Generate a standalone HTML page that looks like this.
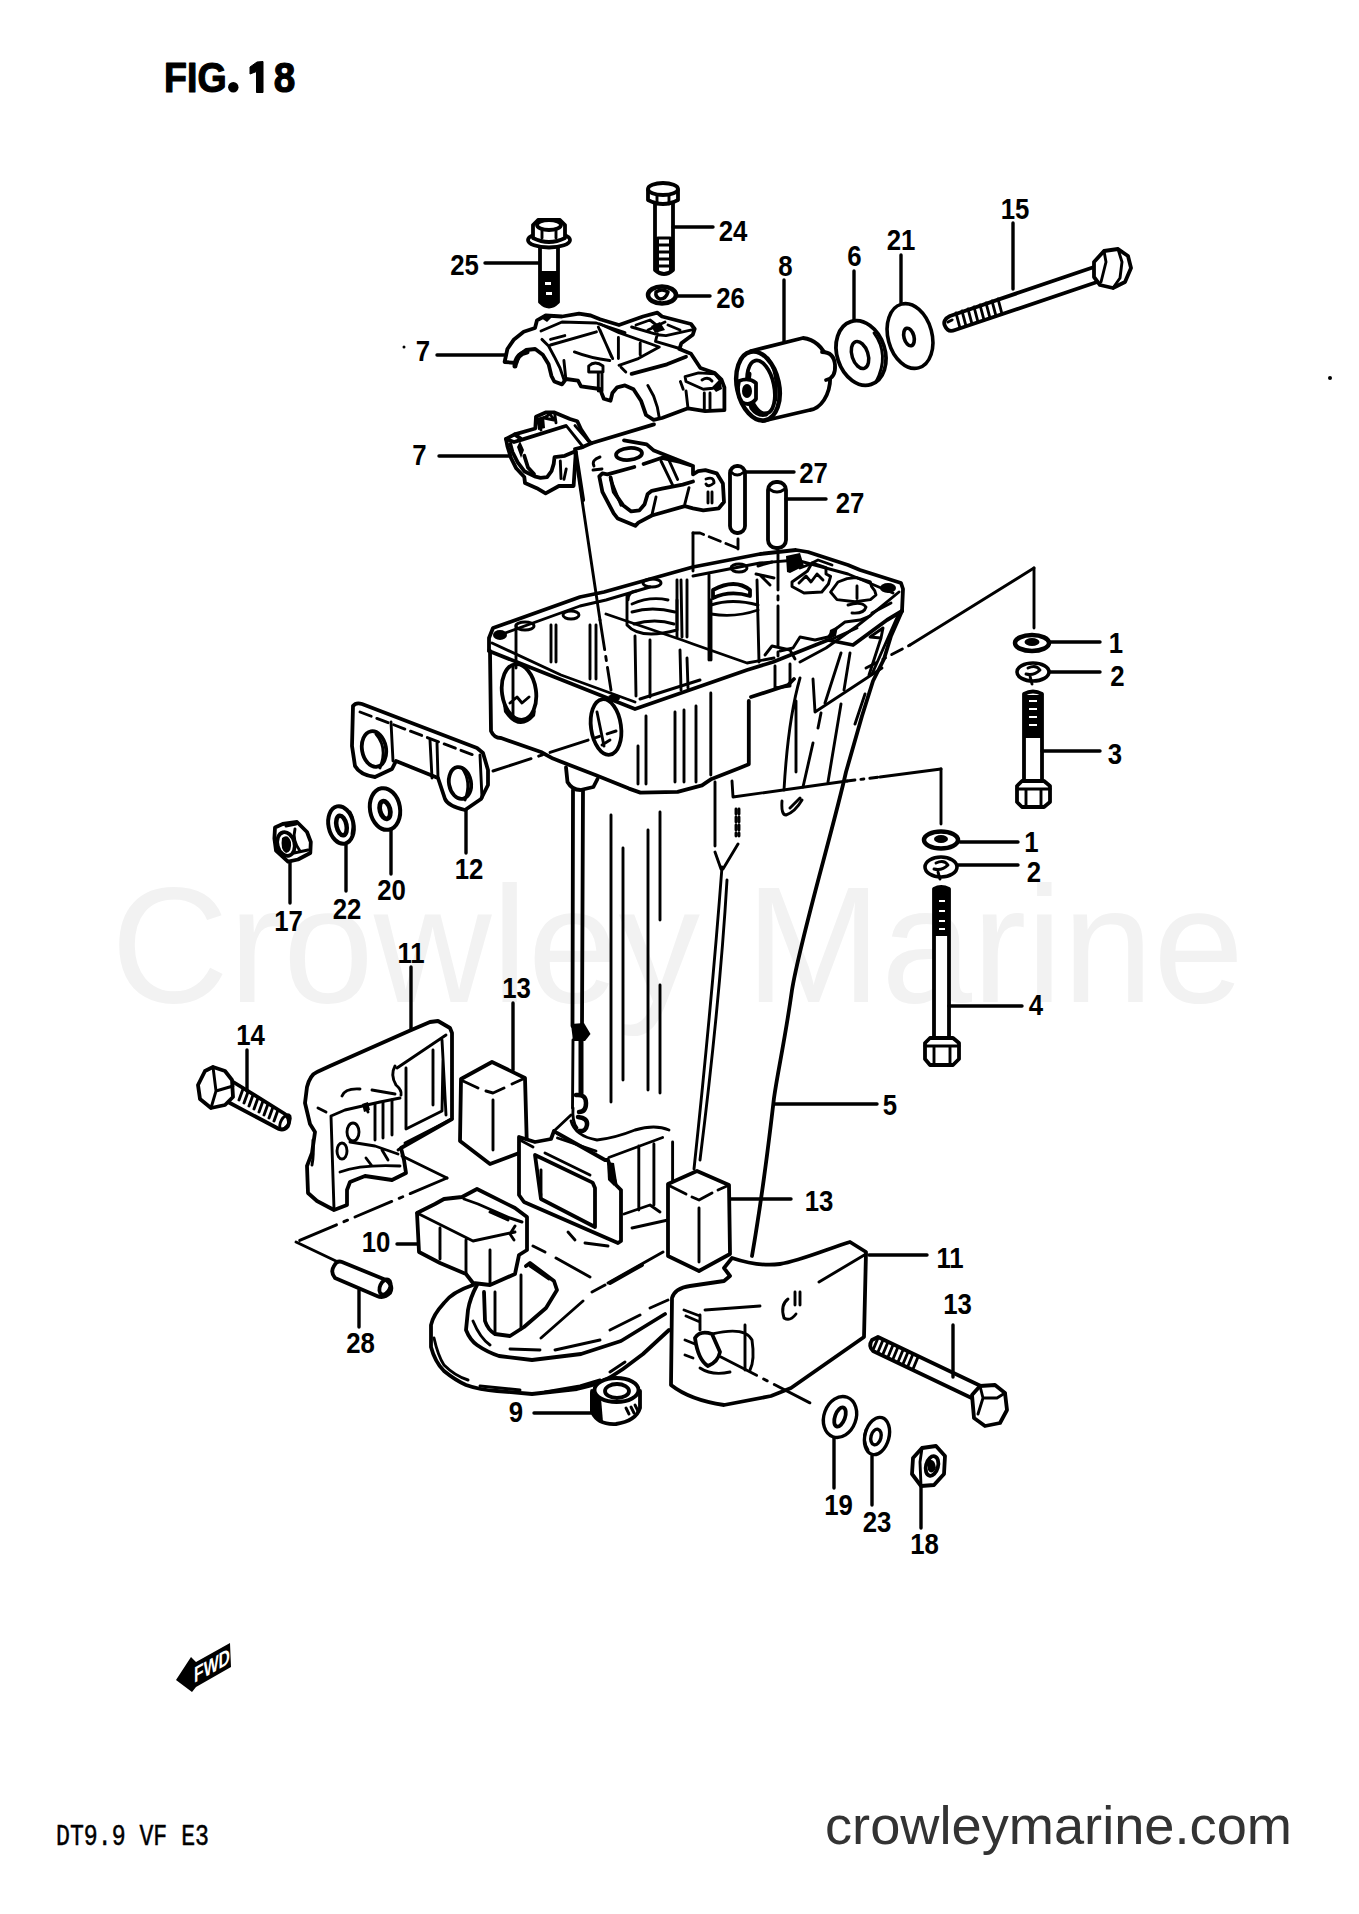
<!DOCTYPE html>
<html><head><meta charset="utf-8"><title>Fig 18</title>
<style>
html,body{margin:0;padding:0;background:#fff;}
body{width:1359px;height:1914px;overflow:hidden;position:relative;}
svg{position:absolute;left:0;top:0;}
.lb{font-family:"Liberation Sans",sans-serif;fill:#000;}
.ld{stroke:#000;stroke-width:3.4;fill:none;stroke-linecap:round;}
.s{stroke:#000;stroke-width:3.8;fill:none;stroke-linecap:round;stroke-linejoin:round;}
.t{stroke:#000;stroke-width:2.9;fill:none;stroke-linecap:round;stroke-linejoin:round;}
.w{fill:#fff;}
.k{fill:#000;}
</style></head><body>
<svg width="1359" height="1914" viewBox="0 0 1359 1914">
<text x="111" y="1002" font-size="165" fill="#f2f2f2" font-family="Liberation Sans, sans-serif" textLength="1133" lengthAdjust="spacingAndGlyphs">Crowley Marine</text>
<g font-size="43" font-weight="bold" stroke="#000" stroke-width="1.2" stroke-linejoin="round" font-family="Liberation Sans, sans-serif"><text x="164.1" y="92" textLength="62.5" lengthAdjust="spacingAndGlyphs">FIG</text><text x="284.6" y="92" text-anchor="middle" transform="translate(284.6,0) scale(0.9,1) translate(-284.6,0)">8</text></g><circle cx="233.3" cy="87.3" r="5.2"/><path d="M257,62 L263,61.5 L263,92.5 L256.5,92.5 L256.5,71.5 L250,74 L250,67 Z" stroke="#000" stroke-width="1" stroke-linejoin="round"/>
<g>
<path class="s" d="M540,246 L540,302 Q549,311 558,302 L558,246"/>
<path class="k" d="M540,271 L558,271 L558,302 Q549,311 540,302 Z"/>
<path class="w" d="M545,282 h6 v3 h-6z M546,292 h6 v3 h-6z"/>
<ellipse class="s w" cx="549" cy="240" rx="21" ry="7.5"/>
<path class="s w" d="M533,238 L533,225 L538,220 L560,220 L565,225 L565,238 Q549,246 533,238Z"/>
<ellipse class="s" cx="549" cy="225" rx="12" ry="5"/>
<path class="t" d="M542,230 L542,238 M556,230 L556,238"/>
</g>
<g>
<path class="s" d="M655,203 L655,270 Q664,278 673,270 L673,203"/>
<path class="t" d="M658,238 h12 M658,245 h12 M658,252 h12 M658,259 h12 M658,266 h12"/>
<path class="k" d="M655,237 L659,237 L659,272 L655,270Z M669,237 L673,237 L673,270 L669,272Z"/>
<path class="s w" d="M648,190 L648,200 Q663,208 678,200 L678,190 Z"/>
<ellipse class="s w" cx="663" cy="189" rx="15" ry="6"/>
<path class="t" d="M657,195 L657,204 M669,195 L669,204"/>
</g>
<g>
<ellipse class="s" cx="662" cy="295" rx="14" ry="8.5" style="stroke-width:4.5"/>
<path class="s" style="stroke-width:3.5" d="M656,292 Q662,288 668,292 Q666,299 660,299 Q655,297 656,292Z"/>
</g>
<g>
<path class="s w" d="M751,351 L803,338 Q820,340 828,360 Q834,385 824,400 Q818,409 810,410 L763,421"/>
<path class="s w" d="M822,352 Q834,352 835,365 Q836,378 826,380"/>
<ellipse class="s w" cx="758" cy="386" rx="21" ry="35" transform="rotate(-12 758 386)" style="stroke-width:4.5"/>
<ellipse class="s" cx="761" cy="387" rx="13" ry="27" transform="rotate(-12 761 387)"/>
<path class="s" style="stroke-width:5" d="M749,374 Q746,392 752,408 Q758,416 766,414"/>
<path class="s w" d="M739,381 Q736,393 742,402 Q750,407 756,399 L756,383 Q749,377 739,381Z"/>
<ellipse class="k" cx="747" cy="391" rx="5" ry="7"/>
<path class="t" d="M768,358 Q778,372 776,400"/>
</g>
<g>
<ellipse class="s" cx="861" cy="353" rx="24" ry="33" transform="rotate(-18 861 353)"/>
<path class="t" d="M874,333 Q890,355 876,382"/>
<ellipse class="s" cx="860" cy="355" rx="8" ry="14" transform="rotate(-18 860 355)" style="stroke-width:3.5"/>
</g>
<g>
<ellipse class="s" cx="910" cy="336" rx="22" ry="33" transform="rotate(-15 910 336)" style="stroke-width:3.6"/>
<ellipse class="s" cx="909" cy="337" rx="5" ry="9" transform="rotate(-15 909 337)" style="stroke-width:3.6"/>
</g>
<g>
<path class="s w" d="M1100,265 L950,316 Q942,320 945,326 Q948,333 955,330 L1103,280"/>
<path class="t" d="M956,313 l4,15 M962,311 l4,15 M968,309 l4,15 M974,307 l4,15 M980,305 l4,15 M986,303 l4,15 M992,301 l4,15 M998,299 l4,15"/>
<path class="t" d="M948,322 L952,320"/>
<path class="s w" d="M1094,262 L1104,251 L1118,249 L1128,256 L1131,268 L1125,282 L1113,288 L1100,285 L1094,277 Z"/>
<path class="t" d="M1104,251 L1106,262 L1101,282 M1118,249 L1122,262 L1120,278 L1113,288"/>
</g>
<g>
<path class="s w" d="M504.6,362 L507.4,349 L514,339.4 L523.7,331.8 L535,328 L537,320.3 L545.7,315.5 L562,316.5 L579,313.6 L590.7,315.5 L600,319.3 L619,325 L643,316.5 L657.4,312.7 L662,316.5 L691,324 L694.7,329 L692.8,334.7 L681.3,343.3 L679.4,349 L691,353.8 L700.4,368 L714.8,373 L721.5,379.6 L724.4,387.3 L724.4,410.2 L705.2,411.2 L688,408.3 L662,418 L653.6,419.8 L646,415 L641,400.7 L633.5,389.2 L625,385.4 L617.2,387.3 L612.4,393 L610.5,400.7 L603.8,398.7 L600,389 L581,386.3 L578,380.6 L566,379 L562,384.4 L554.3,381.5 L551.4,375.8 L548.6,364.3 L542.8,354.7 L535.2,349 L526,350 L519,355 L516.5,363 L504.6,362 Z"/>
<path class="s" style="stroke-width:5" d="M515,366 Q516,354 527,352"/>
<path class="t" d="M541,331 L562,322 L596.4,323 L625,332.7 M541.9,339.4 L548.6,346 L554.3,356.7 L560,368 L563.9,379.6 M550.5,345 L596.4,331.8 M550.5,339.4 L564.8,335.6"/>
<path class="t" d="M563.9,360.5 L565.8,378.7 M574.4,351.9 Q590,358 609.8,360.5 M598.3,327 L612.7,358.6 M618.4,337.5 L618.4,358.6 M600,324 L619,332.7 L659.3,347 L638.3,358.6 L619,365.3 M600,330 L611.5,356.7 M640.2,343.3 L640.2,354.7"/>
<path class="t" d="M588.7,366 Q595,360 603,366 L603,372 L588.7,372 Z M598.3,372 L598.3,391 M602,372 L602,391"/>
<path class="s" d="M631.6,373.9 L667,364.3 L686,356.7"/>
<path class="t" d="M621,367.2 L625.8,372 M647.8,385.4 L653.6,396 L657.4,407.4 L659.3,417.9"/>
<path class="t" d="M631.6,327 L657.4,334.7 L666,335.6 L691.8,329.9 M655.5,341.3 L657.4,333.7 M655.5,341.3 L681.3,349 M636,325 L650,320 L660,328 M648,330 L665,322 M668,325 L680,330"/>
<path class="k" d="M651,326 L660,322 L665,330 L655,333Z M541,318 Q546,314 552,317 L547,322 Z"/>
<path class="t" d="M685.1,376.7 L698.5,372.9 L714.8,373.9 L720.5,380.6 L712.9,388.2 L703.3,389.2 L686,381.5 Z M686,391 L688,408.3 M704.3,393 L704.3,410 M710,393 L710,410 M680.4,381.5 L683.2,389.2 M702,380 Q708,376 712,381"/>
<path class="k" d="M712.9,388.2 L720.5,380.6 L722,389 L716,392Z"/>
</g>
<g>
<path class="s w" d="M506,439 L514.7,434.4 L535.3,428.5 L536,416.8 L545.6,412.4 L554.5,412.4 L570,419 L577.3,421.2 L581,429.3 L588.3,440.3 L591.2,443.3 L581,447.7 L575,449 L575.8,452 L573.6,486 L558.9,486 L545.6,493.3 L536.8,488.2 L525,483 L524.3,477 L516.2,468.3 L511,458 L507.4,446.2 Z"/>
<path class="s" d="M510.3,444 L512.5,452 L517.7,462.4 L524.3,471.2 L534.6,476.4 L540.5,477.8 L547.1,477.1 L551.5,471.2 L553.7,463.9 L554.5,457.2 L564.8,455.8 L573.6,452"/>
<path class="s" d="M524.3,455.8 L528,467.5 L534,474"/>
<path class="s" d="M514.7,434.4 L522,439.6 L564.8,426.3 M506,439 L514,442 L522,439.6"/>
<path class="t" d="M536,416.8 L541,430 M554.5,412.4 L556,422.7 M544,418 L550,414 L554,420 Z M566.2,425.6 L583.2,447 M575,425.6 L590.5,443.3 M560.3,461 L561,478.6 M566.2,469 L564,479.3"/>
<path class="k" d="M537,418 L544,416 L545,428 L538,430Z M520,441 L524,450 L521,458 L517,447Z"/>
<path class="s" d="M591.2,443.3 L654,424.4"/>
<path class="s" d="M575.8,452 L583.2,500"/>
<path class="s w" d="M624,440.3 L646.7,444.4 L653.9,450.6 L693,466 L693,474.3 L698.2,471.2 L705.4,470.2 L716.7,473.3 L722.9,483.6 L724,502 L718.8,508.3 L703.3,510.4 L693,508.3 L684.8,506.2 L651.8,515.5 L638.4,522.7 L635.3,525.8 L617.8,518.6 L613.7,513.4 L602.4,491.8 L599.3,476.4 L602.4,473.3 L607.5,474.3 L634.3,467 M643.6,464 L662,457.8 L680,462 L693,466"/>
<path class="s" d="M610.6,477.4 L613.7,491.8 L623,505.2 L631.2,511.4 L639.4,510.4 L644.6,504.2 L647.7,493.9 L651.8,490.8 L662,488.7 L682.7,484.6 L693,481.5"/>
<path class="t" d="M610.6,479.4 L621,505.2 M661,461 L672.4,484.6 M669.3,461 L677.6,479.4 M656,497 L651.8,515.5 M689,487.7 L684.8,504.2"/>
<ellipse class="s" cx="629" cy="454" rx="13" ry="6" transform="rotate(-5 629 454)"/>
<path class="t" d="M600,457 Q591,460 594,466 M593,470 L602,469"/>
<path class="t" d="M706,479 Q714,476 714,483 Q708,488 706,484 M708,492 L708,503 M712,492 L712,503"/>
</g>
<g>
<rect class="s w" x="730" y="466" width="15" height="67" rx="7"/>
<path class="t" d="M731,472 Q737,478 744,472"/>
<rect class="s w" x="768" y="482" width="18" height="66" rx="8"/>
<path class="t" d="M769,489 Q777,495 785,489"/>
</g>
<path class="t" d="M738,539 L738,549"/>
<path class="t" stroke-dasharray="12,6" d="M737,548 L700,533 L693,533"/>
<path class="t" d="M693,533 L693,571"/>
<path class="t" stroke-dasharray="40,6,4,6" d="M778,550 L778,662"/>
<path class="t" d="M575,453 L588,540 L600,620"/>
<path class="t" stroke-dasharray="30,7,4,7" d="M600,620 L611,690"/>
<g>
<path class="s" d="M489,650 L489,638 L493,628 L580,597 L604,592 L693,567 L760,554 L796,550 L808,552 L848,565 L860,570 L901,583 L903,589 L902,611"/>
<path class="s" d="M489,651 L562,680 L635,709 L747,670 L773,662 L828,640 L853,645 L887,620 L902,611"/>
<path class="t" d="M492,643 L561,675 L635,702 M640,699 L700,680 M800,662 L826,648 L857,626 L871,615 L899,592"/>
<path class="s" d="M490,651 L491,731 Q494,738 501,738 L541,752 L553,758.6 L596.7,775.6 L629,788.6 L640.4,792.6 L677.6,791.8 L702,785.3 L711.6,778.9 L739,768.3 L748.8,764.3 L748.8,701"/>
<path class="t" d="M497,636 L580,606 L606,600 L650,587 M693,576 L760,563 L796,560 L848,574 L893,593"/>
<path class="t" d="M606,614 L682,640 L693,644 L747,663 L774,658"/>
<path class="s" d="M751,697 L788,685 L794,679"/>


</g>
<g>
<path class="t" d="M516,625 L516,668 M551,625 L551,662 M556,625 L556,662 M590,625 L590,679 M596,625 L596,679 M635,636 L636,696 M650,640 L650,697 M680,650 L681,690 M687,658 L688,688"/>
<path class="t" d="M628,600 Q628,592 636,591 M627,595 L627,625 Q640,640 677,630 L677,600"/>
<path class="t" d="M632,604 Q650,596 668,600 M632,612 Q652,606 675,612 M634,624 Q655,618 674,624"/>
<ellipse class="t" cx="652" cy="583" rx="9" ry="4"/>
<path class="t" d="M677,580 L677,637 M681,580 L682,637 M687,580 L687,637"/>
<path class="t" d="M709,575 L709,660 M711,600 L711,660 M757,580 L759,662"/>
<path class="s" d="M713,590 Q735,578 750,590 L750,596 Q730,590 713,598 Z"/>
<path class="t" d="M711,605 Q732,598 758,605 M711,614 Q735,618 758,610"/>
<ellipse class="t" cx="739" cy="568" rx="8" ry="4"/>
<path class="k" d="M786,556 L800,553 L804,566 L790,573 L787,572Z"/>
<path class="t" d="M758,566 L772,562 M756,574 L774,578 M760,575 L770,585"/>



<path class="t" d="M792,582 L807.5,571 L812,563 L826,567.6 L826,574 L830.6,576.4 L828.4,584 L821.8,592 L804,593 L792,586.4 Z"/>
<path class="t" d="M799,583 L806,576 L811,582 L817,574 L823,580 M812,563 L818,560 L832,565 M800,568 L808,565"/>
<path class="t" d="M830.6,592 L837,599.6 L855,601.8 L870.4,599.6 L876,595 L874.8,590.8 L871.5,586.4 L870.4,582 L856,577.5 L847,578.6 L838,582 Z M857,586 L857,598.5"/>
<path class="t" d="M848,605 Q862,601 866,607 Q864,614 852,613"/>
<path class="t" d="M870,616 L860,620 L845,622 L837,628 L828,637 L815,640 L800,637 L793,648 L780,651"/>
<path class="k" d="M830,630 L838,626 L836,636 L828,640 Z"/>
<ellipse class="k" cx="888" cy="588" rx="8" ry="5"/>


<ellipse class="k" cx="500" cy="635" rx="7" ry="5"/>
<ellipse class="t" cx="525" cy="626" rx="9" ry="4"/>
<ellipse class="t" cx="571" cy="615" rx="8" ry="4"/>
<ellipse class="k" cx="614" cy="698" rx="6" ry="4"/>
<path class="t" d="M765,655 L772,646 L790,650 L795,659"/>
<path class="t" d="M775,666 L775,688 M790,664 L790,686 M775,688 L790,686"/>
</g>
<g>
<ellipse class="s" cx="519" cy="692" rx="17" ry="28" transform="rotate(-8 519 692)"/>
<path class="k" d="M503,704 Q518,730 536,710 L535,716 Q519,734 504,712Z"/>
<path class="t" d="M513,666 L513,718 M510,703 L517,697 L522,703 L529,697"/>
<ellipse class="s" cx="606" cy="727" rx="15" ry="28" transform="rotate(-8 606 727)"/>
<path class="t" d="M597,712 L604,746 M602,745 L610,740"/>
<path class="t" d="M638,746 L638,784 M646,716 L646,784 M675,712 L675,782 M684,710 L684,782 M696,706 L696,782 M710.8,693 L710.8,775"/>
<path class="s" d="M566,767.5 L567.5,782 Q572,790 580.5,790 L593.4,787 L597.5,779"/>
</g>
<path class="t" stroke-dasharray="40,8,4,8" d="M493,771 L616,731"/>
<path class="t" stroke-dasharray="12,7,3,7" d="M866,668 L910,645"/>
<path class="t" d="M910,645 L1034,568"/>
<path class="t" d="M1034,568 L1034,628"/>
<path class="t" d="M732,781 L733,797 L847,781"/>
<path class="t" stroke-dasharray="8,6,3,6" d="M847,781 L880,777"/>
<path class="t" d="M880,777 L941,769"/>
<path class="t" d="M941,769 L941,824"/>
<g>
<path class="s" d="M902,611 L891,636 L884,659 L873,681 L862,716 L846,772 C833,830 800,940 792,990 C785,1040 778,1070 774,1098 C768,1150 760,1210 752,1256"/>
<path class="t" d="M899,613 L872,674 M891,603 L872,613 M857,628 L830,640"/>
<path class="t" d="M813,679 L815,712 L882,668"/>
<path class="t" d="M841,653 L825,703 M850,653 L844,690 M841,704 L828,782 M865,694 L855,724 M813,743 L803,787 M821,713 L818,728"/>
<path class="t" d="M800,678 Q788,720 784,790 M796,701 L796,772"/>
<path class="t" d="M883,628 L870,637 L881,638 L869,675 M883,628 L881,638"/>
<path class="t" d="M715,782 L715,846 M715,852 L721,869 M738,844 L723,869 M782,801 Q781,815 786,815 Q795,812 802,800 M790,808 L800,798"/>
<path class="t" stroke-dasharray="5,3" d="M736,809 L736,836 M739,809 L739,836"/>
<path class="t" d="M722,867 Q712,1000 694,1169"/>
<path class="t" d="M727,880 Q720,1000 700,1160"/>
<path class="t" d="M611,815 L611,1102 M623,848 L623,1080 M648,830 L648,1090 M660,812 L660,920 M660,985 L660,1093"/>
</g>
<g>
<path class="s" d="M573,790 L572.5,1026 M583,790 L582,1026"/>
<path class="k" d="M571,1024 L584,1023 L590.5,1034 L585,1041 L573,1041 Z"/>
<path class="t" d="M573,1040 L572.5,1108"/>
<path class="s" style="stroke-width:5" d="M581,1040 L581,1093"/>
<path class="s" style="stroke-width:4.5" d="M576,1095 Q586,1094 586,1103 Q586,1112 579,1112 M578,1117 Q588,1118 587,1125 Q586,1132 579,1131"/>
<path class="t" d="M573,1108 Q572,1122 577,1128"/>
</g>
<g>
<path class="s w" d="M353,706 Q356,702 362,704 L477,748 L483,753 L488,770 L488,785 L481,799 L465,810 Q448,806 445,799 L438,778 L396,761 L392,769 L375,777 Q360,775 355,766 L352,746 Z"/>
<ellipse class="s" cx="374" cy="749" rx="12" ry="18" transform="rotate(-10 374 749)"/>
<path class="t" d="M376,734 Q388,748 380,768"/>
<ellipse class="s" cx="460" cy="783" rx="11" ry="16" transform="rotate(-10 460 783)"/>
<path class="t" d="M462,768 Q472,782 465,800"/>
<path class="t" stroke-dasharray="12,6" d="M360,712 L476,756"/>
<path class="t" d="M391,722 L393,761 M430,740 L432,778 M437,743 L438,778 M480,755 L482,798"/>
</g>
<g>
<path class="s w" d="M275,827.5 L282.7,824 L297,822 L307,832 L310.8,842 L310.3,853 L298,859.5 L288,861.7 L276,850.6 L274.4,838.5 Z"/>
<ellipse class="s" cx="286" cy="844" rx="8.5" ry="12" transform="rotate(-15 286 844)"/>
<path class="k" d="M282,838 Q288,833 291,842 Q292,852 286,853 Q280,850 282,838Z"/>
<path class="t" d="M295,829 Q292,840 300,851 M294,853 L308,850 M286,826 L296,824"/>
</g>
<g>
<ellipse class="s" cx="341" cy="825" rx="12.5" ry="19" transform="rotate(-12 341 825)" style="stroke-width:4"/>
<ellipse class="s" cx="341.5" cy="825.5" rx="5" ry="10" transform="rotate(-12 341.5 825.5)" style="stroke-width:4.5"/>
<path class="t" d="M350,812 Q355,820 352,834"/>
</g>
<g>
<ellipse class="s" cx="385" cy="809" rx="15" ry="21" transform="rotate(-10 385 809)" style="stroke-width:4"/>
<ellipse class="s" cx="385" cy="810" rx="5" ry="9" transform="rotate(-15 385 810)" style="stroke-width:4.8"/>
</g>
<g>
<path class="s w" d="M230,1080 L285,1114 Q291,1120 288,1126 Q284,1131 279,1129 L228,1102"/>
<path class="t" d="M243,1089 l-4,11 M248,1092 l-4,11 M253,1095 l-4,11 M258,1098 l-4,11 M263,1101 l-4,11 M268,1104 l-4,11 M273,1107 l-4,11 M278,1110 l-4,11"/>
<ellipse class="t" cx="285" cy="1122" rx="4" ry="8" transform="rotate(30 285 1122)"/>
<path class="s w" d="M198,1085 L205,1071 L213,1067 L225,1071 L232,1080 L233,1097 L225,1105 L211,1108 L200,1099 Z"/>
<path class="t" d="M213,1067 L216,1091 L211,1108 M216,1091 L233,1086"/>
</g>
<g>
<path class="s w" d="M307,1087 Q310,1075 317,1072 L330,1066 L409,1031 L430,1022 L438,1021 L450,1028 L452,1033 L452,1119 L401,1148 L404,1160 L406,1173 L392,1180 L365,1176 L350,1182 L347,1190 L347,1205 L334,1210 L317,1201 L308,1193 L307,1166 L312,1153 L315,1132 L310,1124 L305,1103 Z"/>
<path class="t" d="M452,1119 L405,1143 M401,1148 L398,1150"/>
<path class="t" d="M395,1066 Q390,1075 396,1085 Q402,1090 401,1095 M397,1068 L446,1035 M406,1068 L406,1129 L442,1111 L443,1060 M433,1050 L433,1105 M442,1040 L446,1115"/>
<path class="t" d="M331,1116 L334,1209 M331,1116 L345,1110 L380,1102 L400,1098 M342,1096 Q345,1088 360,1089 M372,1090 L395,1094"/>
<path class="t" d="M318,1108 L326,1112 M313,1140 Q314,1155 312,1165"/>
<ellipse class="t" cx="353" cy="1132" rx="6" ry="9"/>
<ellipse class="t" cx="342" cy="1151" rx="5" ry="8"/>
<path class="t" d="M350,1142 L375,1146 L398,1154 M340,1172 Q362,1164 400,1166 M366,1158 L372,1166 M382,1150 L388,1160"/>
<path class="t" d="M375,1104 L375,1140 M383,1102 L383,1138 M392,1100 L392,1135 M365,1105 L368,1112"/>
<path class="k" d="M362,1104 L368,1102 L370,1110 L364,1112Z"/>
</g>
<path class="t" d="M402,1156 L447,1178"/>
<path class="t" stroke-dasharray="40,8,4,8" d="M447,1178 L296,1242"/>
<path class="t" d="M296,1242 L338,1262"/>
<g>
<path class="s w" d="M342,1262 L386,1280 Q394,1286 390,1293 Q384,1299 377,1296 L335,1278 Q330,1272 334,1266 Q337,1260 342,1262Z"/>
<ellipse class="s" cx="385" cy="1287" rx="5" ry="8" transform="rotate(25 385 1287)"/>
</g>
<g>
<path class="s w" d="M461,1079 L492,1062 L525,1078 L527,1150 L490,1164 L460,1141 Z"/>
<path class="t" d="M463,1081 L478,1088 M486,1091 L493,1093 L504,1088 M512,1084 L523,1079 M493,1100 L493,1150"/>
</g>
<g>
<path class="s w" d="M417,1213 L419,1252 L440,1263 L466,1274 L473,1283 L490,1285 L515,1274 L519,1255 L527,1250 L527,1217 L515,1208 L477,1189 L462,1197 L444,1199 L435,1204 Z"/>
<path class="t" d="M417,1213 L473,1241 L515,1232 M440,1228 L440,1259 M466,1240 L466,1274 M490,1250 L490,1283"/>
<path class="t" d="M464,1199 L478,1204 L510,1218 L522,1222 M490,1212 L508,1220 M515,1226 L510,1234 L514,1240"/>
</g>
<g>
<path class="s w" d="M519,1137 L535,1142 L551,1139 L554,1131 L557,1133 L605,1160 L608,1160 L616,1185 L621,1190 L621,1241 L618,1243 L524,1202 L519,1195 Z"/>
<path class="t" d="M557.5,1138 L596,1151 M554,1131 L571,1115"/>
<path class="s" d="M535,1155 L592.6,1182.6 L595,1188 L595,1227 L541,1199 Z"/>
<path class="t" d="M545,1153 L590,1175 M541,1170 L541,1195 M520,1140 L533,1147"/>
<path class="t" d="M571,1121 Q575,1136 597,1140 Q615,1138 635,1130 Q655,1124 669,1130"/>
<path class="t" d="M608.8,1157.5 L662.6,1137.5 M638.8,1146 L638.8,1210 M653.9,1144 L653.9,1205 M672.6,1142 L672.6,1185 M624,1214 L650,1205 L660,1212 M632,1228 L668,1220"/>
<path class="k" d="M607,1162 L614,1163 L617,1182 L614,1186 L608,1180Z"/>
<path class="t" d="M568,1232 L575,1240 M585,1243 L608,1246"/>
</g>
<g>
<path class="s w" d="M668,1184 L697,1171 L729,1185 L730,1254 L699,1271 L668,1256 Z"/>
<path class="t" d="M670,1186 L686,1194 M692,1197 L699,1200 L712,1193 M718,1190 L727,1186 M699,1208 L699,1262"/>
</g>
<g>
<path class="s" d="M473,1285 Q452,1292 444,1303 Q433,1315 431,1325 L431,1347 Q435,1362 444,1371 Q455,1380 466,1385 Q480,1390 497,1391 L532,1394 L577,1389 Q590,1386 599,1383 Q612,1377 623,1369 L643,1354 L669,1330"/>
<path class="t" d="M434,1338 Q438,1356 444,1365 Q455,1376 468,1380 M480,1386 L520,1390 M545,1392 L580,1386 L600,1380 M610,1372 L625,1362"/>
<path class="s" d="M477,1285 Q470,1298 468,1310 L466,1330 Q470,1340 477,1345 Q487,1352 499,1356 L532,1360 L581,1354 L621,1341 L665,1314"/>
<path class="t" d="M473,1321 Q480,1338 490,1345 M510,1349 L540,1350 M555,1350 L600,1340"/>
<path class="s" d="M484,1292 L485,1321 Q488,1330 495,1334 L510,1336 L524,1327 L546,1308 L557,1290 L554,1281 L530,1263 L526,1266"/>
<path class="t" d="M495,1292 L495,1334 M521,1275 L521,1329 M530,1266 L549,1279"/>
<path class="t" d="M533,1246 L545,1252 M556,1258 L590,1277 M592,1292 L605,1285 M608,1283 L663,1252 M541,1338 L583,1301 M610,1330 L640,1315 M650,1308 L668,1300"/>
<path class="s" d="M610,1283 L642,1265"/>
</g>
<g>
<path class="s w" d="M592,1391 L592,1412 Q598,1425 616,1424 Q636,1421 640,1408 L640,1391"/>
<path class="k" d="M590,1392 L601,1398 L603,1422 Q595,1420 590,1412Z"/>
<ellipse class="s w" cx="616.5" cy="1390" rx="22" ry="12"/>
<ellipse class="s" cx="617" cy="1391" rx="12" ry="7"/>
<path class="t" d="M626,1408 l3,6 M631,1407 l3,6 M635,1405 l3,6"/>
</g>
<g>
<path class="s w" d="M732,1258 C750,1264 765,1266 780,1264 C800,1261 830,1248 850,1242 L866,1252 L864,1337 L791,1388 L771,1396 L724,1405 Q690,1400 671,1385 L672,1298 Q675,1288 690,1286 L724,1281 L730,1276 L724,1268 Z"/>
<path class="t" d="M819,1282 L866,1254"/>
<path class="t" d="M684,1310 L700,1316 M686,1316 L700,1322 M700,1315 L700,1330 M705,1310 L760,1306 M745,1325 L745,1370"/>
<path class="t" d="M788,1299 Q780,1305 784,1318 M784,1318 Q790,1322 796,1314 M795,1292 L795,1305 M800,1292 L800,1305"/>
<path class="s" d="M695,1338 Q700,1330 712,1334 L720,1352 Q718,1362 708,1366 Q698,1360 695,1338Z"/>
<path class="t" d="M712,1334 Q745,1326 752,1340 Q755,1360 750,1370 M700,1368 Q712,1376 730,1372"/>
<path class="t" d="M685,1340 L695,1344 M685,1355 L693,1358"/>
<path class="t" stroke-dasharray="40,8,4,8" d="M721,1357 L816,1406"/>
</g>
<g>
<path class="s w" d="M878,1337 L985,1388 L980,1402 L873,1351 Q868,1346 872,1340Z"/>
<path class="t" d="M878,1338 l-5,12 M883,1340 l-5,12 M888,1342 l-5,12 M893,1345 l-5,12 M898,1347 l-5,12 M903,1350 l-5,12 M908,1352 l-5,12 M913,1354 l-5,12 M918,1357 l-5,12"/>
<path class="s w" d="M972,1395 L980,1386 L995,1385 L1005,1393 L1007,1410 L1000,1423 L985,1426 L974,1418 Z"/>
<path class="t" d="M980,1386 L983,1398 L978,1414 M983,1398 L997,1398 L1005,1393"/>
</g>
<g>
<ellipse class="s" cx="840" cy="1417" rx="16" ry="21" transform="rotate(20 840 1417)" style="stroke-width:3.4"/>
<ellipse class="s" cx="840" cy="1417" rx="5" ry="10" transform="rotate(20 840 1417)"/>
</g>
<g>
<ellipse class="s" cx="877" cy="1436" rx="12" ry="19" transform="rotate(15 877 1436)" style="stroke-width:3.4"/>
<ellipse class="s" cx="876" cy="1437" rx="5" ry="8" transform="rotate(15 876 1437)" style="stroke-width:3.4"/>
<path class="t" d="M866,1430 Q862,1440 868,1450"/>
</g>
<g>
<path class="s w" d="M913,1458 L922,1448 L936,1446 L945,1456 L944,1474 L934,1485 L921,1486 L912,1474 Z"/>
<ellipse class="s" cx="932" cy="1466" rx="6" ry="10" transform="rotate(15 932 1466)"/>
<path class="k" d="M928,1460 Q935,1458 936,1468 Q932,1476 928,1470Z"/>
<path class="t" d="M922,1448 L920,1462 L921,1486"/>
</g>
<g>
<ellipse class="s" cx="1032" cy="643" rx="17" ry="8" style="stroke-width:4.5"/>
<ellipse class="k" cx="1032" cy="642" rx="7.5" ry="4"/>
<ellipse class="s" cx="1033" cy="672" rx="16" ry="9" style="stroke-width:3.6"/>
<path class="t" d="M1028,668 Q1036,664 1040,670 Q1034,676 1026,674 M1030,676 L1032,684"/>
<path class="s w" d="M1024,694 Q1033,689 1042,694 L1042,784 L1024,784 Z"/>
<path class="k" d="M1025,695 L1041,695 L1041,738 L1025,738 Z"/>
<path class="w" d="M1029,700 h8 v2 h-8z M1029,708 h8 v2 h-8z M1029,716 h8 v2 h-8z M1029,724 h8 v2 h-8z"/>
<path class="s w" d="M1017,786 L1022,781 L1044,781 L1050,786 L1050,802 L1044,807 L1022,807 L1017,802 Z"/>
<path class="t" d="M1017,789 L1050,789 M1026,789 L1026,806 M1041,789 L1041,806"/>

<ellipse class="s" cx="941" cy="840" rx="17" ry="8.5" style="stroke-width:4.5"/>
<ellipse class="k" cx="941" cy="839" rx="7" ry="4"/>
<ellipse class="s" cx="941" cy="867" rx="16" ry="10" style="stroke-width:3.6"/>
<path class="t" d="M936,863 Q944,859 948,865 Q942,871 934,869 M938,872 L940,879"/>
<path class="s w" d="M934,889 Q941,885 949,889 L949,1040 L934,1040 Z"/>
<path class="k" d="M934,889 L949,889 L949,936 L934,936 Z"/>
<path class="w" d="M939,900 h6 v2 h-6z M939,910 h6 v2 h-6z M939,920 h6 v2 h-6z M939,928 h6 v2 h-6z"/>
<path class="s w" d="M925,1043 L930,1038 L953,1038 L959,1043 L959,1059 L953,1065 L930,1065 L925,1059 Z"/>
<path class="t" d="M925,1046 L959,1046 M934,1046 L934,1064 M950,1046 L950,1064"/>
</g>
<g>
<path class="k" d="M176,1680 L191,1657 L196,1662 L230,1643 L231,1667 L196,1687 L192,1692 Z"/>
<text x="0" y="0" font-size="22" font-weight="bold" fill="#fff" font-family="Liberation Sans, sans-serif" transform="translate(194,1683) skewY(-29) scale(0.72,1)">FWD</text>
</g>
<circle class="k" cx="1330" cy="378" r="2"/><circle class="k" cx="404" cy="347" r="1.5"/>
<text transform="translate(464.5,275) scale(0.880,1)" font-size="29.3" font-weight="bold" text-anchor="middle" class="lb">25</text>
<text transform="translate(733.0,241) scale(0.880,1)" font-size="29.3" font-weight="bold" text-anchor="middle" class="lb">24</text>
<text transform="translate(730.5,308) scale(0.880,1)" font-size="29.3" font-weight="bold" text-anchor="middle" class="lb">26</text>
<text transform="translate(785.5,276) scale(0.880,1)" font-size="29.3" font-weight="bold" text-anchor="middle" class="lb">8</text>
<text transform="translate(854.5,266) scale(0.880,1)" font-size="29.3" font-weight="bold" text-anchor="middle" class="lb">6</text>
<text transform="translate(901.0,250) scale(0.880,1)" font-size="29.3" font-weight="bold" text-anchor="middle" class="lb">21</text>
<text transform="translate(1015.0,219) scale(0.880,1)" font-size="29.3" font-weight="bold" text-anchor="middle" class="lb">15</text>
<text transform="translate(423.0,361) scale(0.880,1)" font-size="29.3" font-weight="bold" text-anchor="middle" class="lb">7</text>
<text transform="translate(419.5,465) scale(0.880,1)" font-size="29.3" font-weight="bold" text-anchor="middle" class="lb">7</text>
<text transform="translate(813.5,483) scale(0.880,1)" font-size="29.3" font-weight="bold" text-anchor="middle" class="lb">27</text>
<text transform="translate(850.0,513) scale(0.880,1)" font-size="29.3" font-weight="bold" text-anchor="middle" class="lb">27</text>
<text transform="translate(1116.0,653) scale(0.880,1)" font-size="29.3" font-weight="bold" text-anchor="middle" class="lb">1</text>
<text transform="translate(1117.5,686) scale(0.880,1)" font-size="29.3" font-weight="bold" text-anchor="middle" class="lb">2</text>
<text transform="translate(1115.0,764) scale(0.880,1)" font-size="29.3" font-weight="bold" text-anchor="middle" class="lb">3</text>
<text transform="translate(1031.5,852) scale(0.880,1)" font-size="29.3" font-weight="bold" text-anchor="middle" class="lb">1</text>
<text transform="translate(1034.0,882) scale(0.880,1)" font-size="29.3" font-weight="bold" text-anchor="middle" class="lb">2</text>
<text transform="translate(1036.0,1015) scale(0.880,1)" font-size="29.3" font-weight="bold" text-anchor="middle" class="lb">4</text>
<text transform="translate(890.0,1115) scale(0.880,1)" font-size="29.3" font-weight="bold" text-anchor="middle" class="lb">5</text>
<text transform="translate(469.0,879) scale(0.880,1)" font-size="29.3" font-weight="bold" text-anchor="middle" class="lb">12</text>
<text transform="translate(288.5,931) scale(0.880,1)" font-size="29.3" font-weight="bold" text-anchor="middle" class="lb">17</text>
<text transform="translate(347.0,919) scale(0.880,1)" font-size="29.3" font-weight="bold" text-anchor="middle" class="lb">22</text>
<text transform="translate(391.5,900) scale(0.880,1)" font-size="29.3" font-weight="bold" text-anchor="middle" class="lb">20</text>
<text transform="translate(411.0,963) scale(0.880,1)" font-size="29.3" font-weight="bold" text-anchor="middle" class="lb">11</text>
<text transform="translate(250.5,1045) scale(0.880,1)" font-size="29.3" font-weight="bold" text-anchor="middle" class="lb">14</text>
<text transform="translate(516.5,998) scale(0.880,1)" font-size="29.3" font-weight="bold" text-anchor="middle" class="lb">13</text>
<text transform="translate(819.0,1211) scale(0.880,1)" font-size="29.3" font-weight="bold" text-anchor="middle" class="lb">13</text>
<text transform="translate(376.0,1252) scale(0.880,1)" font-size="29.3" font-weight="bold" text-anchor="middle" class="lb">10</text>
<text transform="translate(360.5,1353) scale(0.880,1)" font-size="29.3" font-weight="bold" text-anchor="middle" class="lb">28</text>
<text transform="translate(516.0,1422) scale(0.880,1)" font-size="29.3" font-weight="bold" text-anchor="middle" class="lb">9</text>
<text transform="translate(950.0,1268) scale(0.880,1)" font-size="29.3" font-weight="bold" text-anchor="middle" class="lb">11</text>
<text transform="translate(957.5,1314) scale(0.880,1)" font-size="29.3" font-weight="bold" text-anchor="middle" class="lb">13</text>
<text transform="translate(838.5,1515) scale(0.880,1)" font-size="29.3" font-weight="bold" text-anchor="middle" class="lb">19</text>
<text transform="translate(877.0,1532) scale(0.880,1)" font-size="29.3" font-weight="bold" text-anchor="middle" class="lb">23</text>
<text transform="translate(924.5,1554) scale(0.880,1)" font-size="29.3" font-weight="bold" text-anchor="middle" class="lb">18</text>
<line x1="485" y1="263" x2="539" y2="263" class="ld"/>
<line x1="673" y1="227" x2="713" y2="227" class="ld"/>
<line x1="678" y1="296" x2="710" y2="296" class="ld"/>
<line x1="784" y1="280" x2="784" y2="341" class="ld"/>
<line x1="854" y1="271" x2="854" y2="320" class="ld"/>
<line x1="901" y1="255" x2="901" y2="303" class="ld"/>
<line x1="1013" y1="223" x2="1013" y2="289" class="ld"/>
<line x1="437" y1="355" x2="506" y2="355" class="ld"/>
<line x1="439" y1="456" x2="509" y2="456" class="ld"/>
<line x1="745" y1="472" x2="794" y2="472" class="ld"/>
<line x1="786" y1="499" x2="826" y2="499" class="ld"/>
<line x1="1051" y1="642" x2="1100" y2="642" class="ld"/>
<line x1="1050" y1="672" x2="1100" y2="672" class="ld"/>
<line x1="1042" y1="751" x2="1100" y2="751" class="ld"/>
<line x1="960" y1="842" x2="1018" y2="842" class="ld"/>
<line x1="958" y1="865" x2="1018" y2="865" class="ld"/>
<line x1="949" y1="1006" x2="1022" y2="1006" class="ld"/>
<line x1="774" y1="1104" x2="877" y2="1104" class="ld"/>
<line x1="466" y1="810" x2="466" y2="853" class="ld"/>
<line x1="290" y1="862" x2="290" y2="903" class="ld"/>
<line x1="346" y1="845" x2="346" y2="891" class="ld"/>
<line x1="391" y1="830" x2="391" y2="874" class="ld"/>
<line x1="411" y1="967" x2="411" y2="1029" class="ld"/>
<line x1="247" y1="1050" x2="247" y2="1091" class="ld"/>
<line x1="513" y1="1003" x2="513" y2="1070" class="ld"/>
<line x1="730" y1="1199" x2="791" y2="1199" class="ld"/>
<line x1="397" y1="1244" x2="418" y2="1244" class="ld"/>
<line x1="359" y1="1290" x2="359" y2="1327" class="ld"/>
<line x1="534" y1="1413" x2="591" y2="1413" class="ld"/>
<line x1="869" y1="1255" x2="927" y2="1255" class="ld"/>
<line x1="953" y1="1325" x2="953" y2="1377" class="ld"/>
<line x1="834" y1="1438" x2="834" y2="1488" class="ld"/>
<line x1="872" y1="1456" x2="872" y2="1505" class="ld"/>
<line x1="921" y1="1486" x2="921" y2="1528" class="ld"/>
<text x="56" y="1845" font-size="30" stroke="#000" stroke-width="0.5" font-family="Liberation Mono, monospace" textLength="153" lengthAdjust="spacingAndGlyphs">DT9.9 VF E3</text>
<text x="825" y="1844" font-size="54" fill="#333" font-family="Liberation Sans, sans-serif" textLength="467" lengthAdjust="spacingAndGlyphs">crowleymarine.com</text>
</svg>
</body></html>
